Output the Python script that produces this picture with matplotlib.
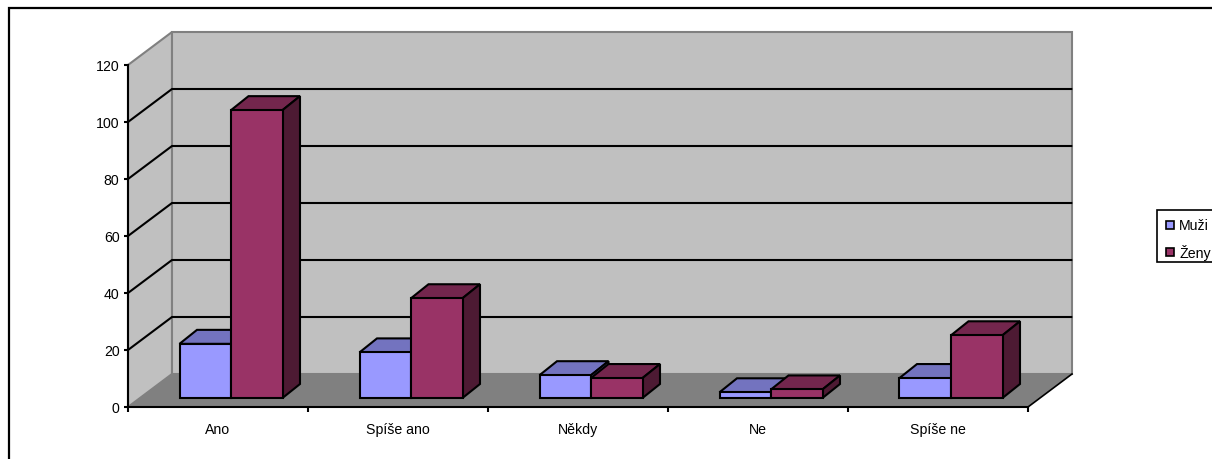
from matplotlib import pyplot as plt
import matplotlib.patches as patches

plt.rcParams['font.family'] = ['Liberation Sans', 'DejaVu Sans']

categories = ["Ano", "Spíše ano", "Někdy", "Ne", "Spíše ne"]
muzi = [19, 16, 8, 2, 7]
zeny = [101, 35, 7, 3, 22]
y_ticks = [0, 20, 40, 60, 80, 100, 120]

W, H = 1212, 460
# one unit on each axis, in pixels
PX_X = 180.0
PX_Y = 2.85

# oblique offset of the back wall, and of the bars' front plane and depth
WALL_DX, WALL_DY = 44 / PX_X, 33 / PX_Y
BASE_DX, BASE_DY = 13 / PX_X, 9 / PX_Y
BAR_DX, BAR_DY = 17.5 / PX_X, 14 / PX_Y
BAR_W = 51.5 / PX_X

fig = plt.figure(figsize=(W / 100, H / 100), dpi=100, facecolor='white')
ax = fig.add_axes([128 / W, 1 - 408 / H, 900 / W, 342 / H], facecolor='none')
ax.set_xlim(0, len(categories))
ax.set_ylim(0, 120)


def poly(pts, fc, ec='none', lw=0, z=1):
    ax.add_patch(patches.Polygon(pts, closed=True, facecolor=fc, edgecolor=ec,
                                 linewidth=lw, zorder=z, clip_on=False,
                                 joinstyle='miter'))


def bar3d(x, value, face, top, side, z):
    y0 = BASE_DY
    y1 = BASE_DY + value
    x1 = x + BAR_W
    poly([(x, y1), (x1, y1), (x1 + BAR_DX, y1 + BAR_DY), (x + BAR_DX, y1 + BAR_DY)],
         top, 'k', 1.5, z)
    poly([(x1, y0), (x1 + BAR_DX, y0 + BAR_DY), (x1 + BAR_DX, y1 + BAR_DY), (x1, y1)],
         side, 'k', 1.5, z)
    poly([(x, y0), (x1, y0), (x1, y1), (x, y1)], face, 'k', 1.5, z)


n = len(categories)

# walls and floor
poly([(0, 0), (WALL_DX, WALL_DY), (WALL_DX, 120 + WALL_DY), (0, 120)], '#C0C0C0', '#808080', 1.5, 1)
poly([(WALL_DX, WALL_DY), (n + WALL_DX, WALL_DY), (n + WALL_DX, 120 + WALL_DY),
      (WALL_DX, 120 + WALL_DY)], '#C0C0C0', '#808080', 1.5, 1)
poly([(0, 0), (n, 0), (n + WALL_DX, WALL_DY), (WALL_DX, WALL_DY)], '#808080', z=2)

# gridlines run along both walls
for v in y_ticks[1:-1]:
    ax.plot([0, WALL_DX, n + WALL_DX - 0.004], [v, v + WALL_DY, v + WALL_DY],
            color='k', lw=1.5, zorder=3, clip_on=False, solid_joinstyle='miter')
ax.plot([n, n + WALL_DX], [0, WALL_DY], color='k', lw=1.2, zorder=3, clip_on=False)

for i in range(n):
    centre = i + BASE_DX + 0.5
    bar3d(centre - BAR_W, muzi[i], '#9999FF', '#7373BF', '#4D4D80', 4 + i * 2)
    bar3d(centre, zeny[i], '#993366', '#73264D', '#4D1A33', 5 + i * 2)

for name in ['top', 'right']:
    ax.spines[name].set_visible(False)
for name in ['left', 'bottom']:
    ax.spines[name].set_linewidth(1.5)
    ax.spines[name].set_zorder(20)

ax.set_yticks(y_ticks)
ax.set_xticks(range(n + 1))
ax.set_xticklabels([])
ax.set_xticks([i + 0.5 for i in range(n)], categories, minor=True)
ax.tick_params(axis='y', length=3.2, width=1.5, labelsize=10.2, pad=3)
ax.tick_params(axis='x', which='major', length=3.6, width=1.5)
ax.tick_params(axis='x', which='minor', length=0, labelsize=10.2, pad=11)

# outer frame, only its top and left edges are inside the image
fig.add_artist(plt.Line2D([9 / W, 9 / W, 1], [0, 1 - 9 / H, 1 - 9 / H], color='k', lw=1.6,
                          solid_joinstyle='miter'))

# legend box runs off the right edge
fig.add_artist(patches.Rectangle((1157 / W, 1 - 263 / H), 70 / W, 52 / H, facecolor='white',
                                 edgecolor='k', lw=1.2, transform=fig.transFigure))
for label, colour, yc in [("Muži", '#9999FF', 226), ("Ženy", '#993366', 253)]:
    fig.add_artist(patches.Rectangle((1166 / W, 1 - (yc + 4) / H), 8 / W, 8 / H, facecolor=colour,
                                     edgecolor='k', lw=1.2, transform=fig.transFigure))
    fig.text(1179 / W, 1 - yc / H, label, fontsize=10.2, va='center', ha='left')

fig.savefig("out.png", dpi=100)
